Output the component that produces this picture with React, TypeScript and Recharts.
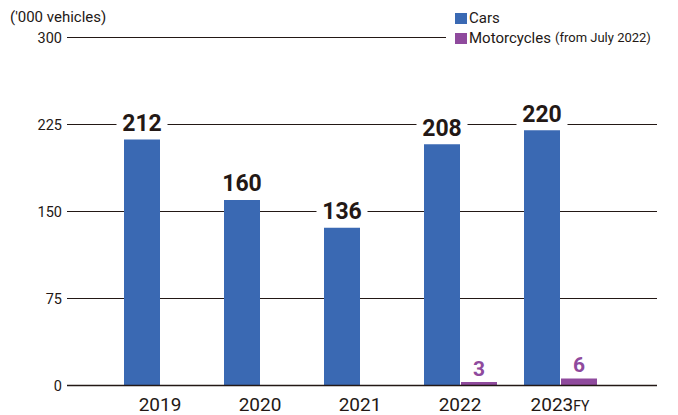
import React from "react";
import { BarChart, Bar, XAxis, YAxis, CartesianGrid, LabelList } from "recharts";

const years = ["2019", "2020", "2021", "2022", "2023"];
const cars = [212, 160, 136, 208, 220];
const motorcycles = [null, null, null, 3, 6];
const yTicks = [0, 75, 150, 225, 300];

const data = years.map((year, i) => ({
  year,
  cars: cars[i],
  motorcycles: motorcycles[i],
}));

const INK = "#231815";
const BLUE = "#3a69b3";
const PURPLE = "#8f4a9d";
const FONT = "Roboto, 'Noto Sans', sans-serif";

const CarLabel = (props: any) => {
  const { x, y, width, value } = props;
  if (value == null) return null;
  const cx = x + width / 2;
  const cy = y - 17;
  const w = String(value).length * 13 + 12;
  return (
    <g>
      <rect x={cx - w / 2} y={cy - 12} width={w} height={24} fill="#fff" />
      <text
        x={cx}
        y={cy}
        dy="0.36em"
        textAnchor="middle"
        fontSize={23}
        fontWeight={700}
        fill={INK}
        fontFamily={FONT}
      >
        {value}
      </text>
    </g>
  );
};

const MotoLabel = (props: any) => {
  const { x, y, width, value } = props;
  if (value == null) return null;
  return (
    <text
      x={x + width / 2}
      y={y - 14}
      dy="0.36em"
      textAnchor="middle"
      fontSize={21}
      fontWeight={700}
      fill={PURPLE}
      fontFamily={FONT}
    >
      {value}
    </text>
  );
};

const YearTick = (props: any) => {
  const { x, y, payload } = props;
  const last = payload.value === "2023";
  return (
    <text x={x} y={y + 25} textAnchor="middle" fill={INK} fontFamily={FONT}>
      <tspan fontSize={19}>{payload.value}</tspan>
      {last && <tspan fontSize={14}>FY</tspan>}
    </text>
  );
};

export default function App() {
  return (
    <div
      style={{
        position: "absolute",
        left: 0,
        top: 0,
        width: 678,
        height: 415,
        background: "#fff",
        fontFamily: FONT,
        color: INK,
      }}
    >
      <BarChart
        width={678}
        height={415}
        data={data}
        margin={{ top: 37.5, right: 21, bottom: 0.5, left: 0 }}
        barSize={36}
        barGap={1}
      >
        <CartesianGrid vertical={false} stroke={INK} strokeWidth={1} />
        <XAxis
          dataKey="year"
          height={29}
          padding={{ left: 43, right: 47 }}
          axisLine={{ stroke: INK, strokeWidth: 1.5 }}
          tickLine={false}
          tickSize={0}
          tickMargin={0}
          tick={<YearTick />}
          interval={0}
        />
        <YAxis
          width={67}
          domain={[0, 300]}
          ticks={yTicks}
          axisLine={false}
          tickLine={false}
          tickSize={3}
          tickMargin={2}
          tick={{ fontSize: 14.5, fill: INK, fontFamily: FONT }}
        />
        <Bar dataKey="cars" fill={BLUE} isAnimationActive={false}>
          <LabelList dataKey="cars" content={<CarLabel />} />
        </Bar>
        <Bar dataKey="motorcycles" fill={PURPLE} isAnimationActive={false}>
          <LabelList dataKey="motorcycles" content={<MotoLabel />} />
        </Bar>
      </BarChart>
      <div
        style={{
          position: "absolute",
          left: 10,
          top: 7,
          fontSize: 15,
          lineHeight: "20px",
        }}
      >
        ('000 vehicles)
      </div>
      <div
        style={{
          position: "absolute",
          left: 446,
          top: 8,
          width: 232,
          height: 40,
          background: "#fff",
          fontSize: 15,
          lineHeight: "20px",
        }}
      >
        <div style={{ display: "flex", alignItems: "center", paddingLeft: 9 }}>
          <span style={{ width: 12, height: 11, background: BLUE, marginRight: 2 }} />
          <span>Cars</span>
        </div>
        <div style={{ display: "flex", alignItems: "center", paddingLeft: 9 }}>
          <span style={{ width: 12, height: 11, background: PURPLE, marginRight: 2 }} />
          <span>Motorcycles</span>
          <span style={{ fontSize: 13, marginLeft: 4 }}>(from July 2022)</span>
        </div>
      </div>
    </div>
  );
}
